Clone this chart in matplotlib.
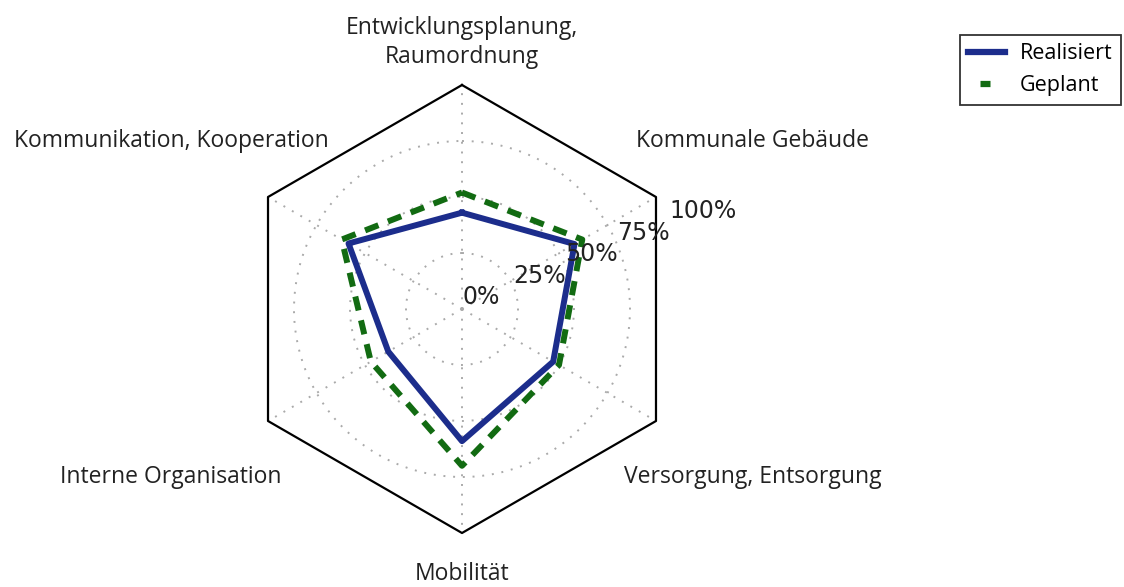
import numpy as np
import matplotlib
matplotlib.use('Agg')
import matplotlib.pyplot as plt
from matplotlib.lines import Line2D

# Categories, clockwise from the top
categories = ['Entwicklungsplanung,\nRaumordnung', 'Kommunale Gebäude',
              'Versorgung, Entsorgung', 'Mobilität',
              'Interne Organisation', 'Kommunikation, Kooperation']
realisiert = [0.43, 0.58, 0.47, 0.59, 0.38, 0.585]
geplant = [0.52, 0.62, 0.50, 0.70, 0.47, 0.62]
rticks = [0.0, 0.25, 0.5, 0.75, 1.0]
rticklabels = ['0%', '25%', '50%', '75%', '100%']

n = len(categories)
angles = np.arange(n) * 2 * np.pi / n
closed = np.append(angles, angles[0])

blue = '#1c2d8c'
green = '#126b12'

fig = plt.figure(figsize=(11.24, 5.87), dpi=100)
ax = fig.add_axes([238/1124, 1 - 533/587, 448/1124, 448/587], polar=True)
ax.set_theta_zero_location('N')
ax.set_theta_direction(-1)
ax.set_ylim(0, 1)

# grid: dotted spokes and circles, hexagon frame instead of circle
ax.set_xticks(angles)
ax.set_xticklabels([])
ax.set_yticks(rticks[1:-1])
ax.set_yticklabels([])
ax.grid(True, color='#aaaaaa', linestyle=(0, (1, 4)), linewidth=1.4)
ax.spines['polar'].set_visible(False)
ax.patch.set_visible(False)
ax.plot(closed, [1.0] * (n + 1), color='black', linewidth=1.6, clip_on=False)

ax.plot(closed, realisiert + realisiert[:1], color=blue, linewidth=4.3)
ax.plot(closed, geplant + geplant[:1], color=green,
        linewidth=4.3, linestyle=(0, (2.4, 1.7)))

# radial labels at 22.5 deg above east
rlab = np.deg2rad(67.5)
for r, t in zip(rticks, rticklabels):
    ax.text(rlab, r, t, ha='left', va='bottom', fontsize=17,
            family='DejaVu Sans', color='#222222')

# category labels
label_r = [1.19, 1.5, 1.5, 1.185, 1.5, 1.5]
for a, r, c in zip(angles, label_r, categories):
    ax.text(a, r, c, ha='center', va='center', fontsize=16.5,
            family='Open Sans', color='#222222', linespacing=1.25)

h1 = Line2D([], [], color=blue, linewidth=4.5)
h2 = Line2D([], [], color=green, linewidth=4.5, linestyle=(19.6, (1.6, 20)))
leg = fig.legend(handles=[h1, h2], labels=['Realisiert', 'Geplant'],
                 loc='upper left', bbox_to_anchor=(949/1124, 1 - 24/587),
                 prop={'family': 'Open Sans', 'size': 15.5},
                 fancybox=False, edgecolor='black', handlelength=1.7,
                 handletextpad=0.7, borderpad=0.4, labelspacing=0.5)
leg.get_frame().set_linewidth(1.3)

plt.savefig('out.png', dpi=100)
